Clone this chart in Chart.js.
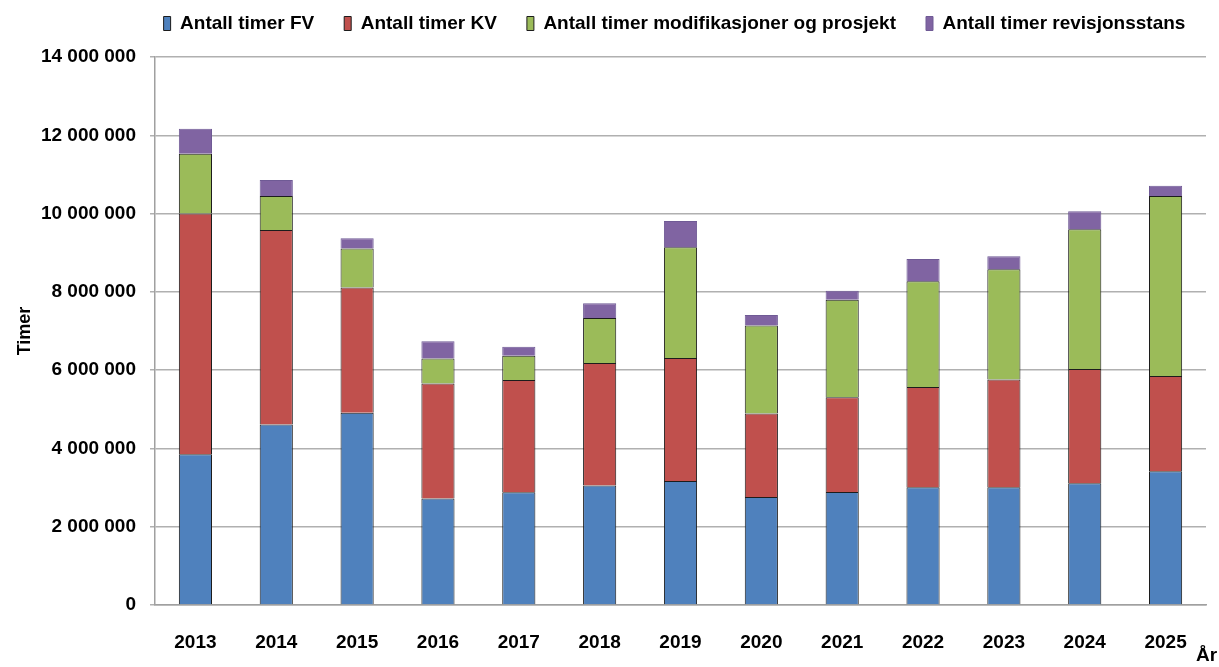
<!DOCTYPE html>
<html>
<head>
<meta charset="utf-8">
<script src="https://cdn.jsdelivr.net/npm/chart.js@4/dist/chart.umd.min.js"></script>
<style>
  html, body { margin: 0; padding: 0; background: #fff; }
  canvas { display: block; }
</style>
</head>
<body>
<canvas id="timerChart" width="1219" height="667"></canvas>
<script>
const years = ['2013', '2014', '2015', '2016', '2017', '2018', '2019', '2020', '2021', '2022', '2023', '2024', '2025'];
const timerFV = [3850000, 4610000, 4910000, 2720000, 2880000, 3050000, 3170000, 2760000, 2890000, 3010000, 3010000, 3110000, 3420000];
const timerKV = [6150000, 4970000, 3200000, 2940000, 2870000, 3130000, 3140000, 2130000, 2420000, 2560000, 2750000, 2920000, 2430000];
const timerMod = [1530000, 870000, 1000000, 640000, 620000, 1150000, 2830000, 2250000, 2490000, 2700000, 2820000, 3570000, 4600000];
const timerRev = [640000, 410000, 260000, 440000, 230000, 380000, 670000, 270000, 230000, 570000, 330000, 460000, 260000];
const yTicks = [0, 2000000, 4000000, 6000000, 8000000, 10000000, 12000000, 14000000];

const fontFamily = "'Liberation Sans', Arial, sans-serif";

function spaced(v) {
    return String(v).replace(/\B(?=(\d{3})+(?!\d))/g, ' ');
}

// keep the legend on one row and leave room above the plot
const legendSpace = {
    id: 'legendSpace',
    beforeInit(chart) {
        const fit = chart.legend.fit;
        chart.legend.fit = function () {
            this.maxWidth = 1219;
            fit.bind(chart.legend)();
            this.height = 73;
        };
    },
    afterLayout(chart) {
        // widen the legend box so the last item isn't wrapped away
        chart.legend.left -= 42;
        chart.legend.right += 30;
        chart.legend.width = chart.legend.right - chart.legend.left;
    }
};

// "År" label at the right end of the x axis
const arLabel = {
    id: 'arLabel',
    afterDraw(chart) {
        const c = chart.ctx;
        const area = chart.chartArea;
        c.save();
        c.font = 'bold 19px ' + fontFamily;
        c.fillStyle = '#000';
        c.textAlign = 'left';
        c.textBaseline = 'middle';
        c.fillText('År', area.right - 10, area.bottom + 51);
        c.restore();
    }
};

const ctx = document.getElementById('timerChart').getContext('2d');

new Chart(ctx, {
    type: 'bar',
    data: {
        labels: years,
        datasets: [
            { label: 'Antall timer FV', data: timerFV, backgroundColor: '#4F81BD', borderColor: '#1c1c1c' },
            { label: 'Antall timer KV', data: timerKV, backgroundColor: '#C0504D', borderColor: '#1c1c1c' },
            { label: 'Antall timer modifikasjoner og prosjekt', data: timerMod, backgroundColor: '#9BBB59', borderColor: '#1c1c1c' },
            { label: 'Antall timer revisjonsstans', data: timerRev, backgroundColor: '#8064A2', borderColor: '#6f5a95' }
        ]
    },
    options: {
        responsive: false,
        animation: false,
        layout: { padding: { top: -16, right: 13, left: 0, bottom: 0 } },
        datasets: {
            bar: { borderWidth: 1, categoryPercentage: 1, barPercentage: 0.41 }
        },
        plugins: {
            legend: {
                position: 'top',
                fullSize: false,
                labels: {
                    boxWidth: 7,
                    boxHeight: 14,
                    padding: 30,
                    color: '#000',
                    font: { family: fontFamily, size: 19, weight: 'bold' }
                }
            },
            tooltip: { enabled: false }
        },
        scales: {
            x: {
                stacked: true,
                grid: { display: false },
                border: { display: true, color: '#a0a0a0', width: 1.5 },
                ticks: {
                    color: '#000',
                    padding: 18,
                    font: { family: fontFamily, size: 19, weight: 'bold' }
                },
                afterFit(scale) { scale.height = 62; }
            },
            y: {
                stacked: true,
                min: 0,
                max: 14000000,
                afterBuildTicks(scale) {
                    scale.ticks = yTicks.map(v => ({ value: v }));
                },
                grid: { color: '#b0b0b0', lineWidth: 1.5, tickLength: 5, drawTicks: true },
                border: { display: true, color: '#a0a0a0', width: 1.5 },
                ticks: {
                    color: '#000',
                    padding: 14,
                    font: { family: fontFamily, size: 19, weight: 'bold' },
                    callback: value => spaced(value)
                },
                title: {
                    display: true,
                    text: 'Timer',
                    color: '#000',
                    padding: { top: 14, bottom: 0 },
                    font: { family: fontFamily, size: 18, weight: 'bold' }
                },
                afterFit(scale) { scale.width = 155; }
            }
        }
    },
    plugins: [legendSpace, arLabel]
});
</script>
</body>
</html>
